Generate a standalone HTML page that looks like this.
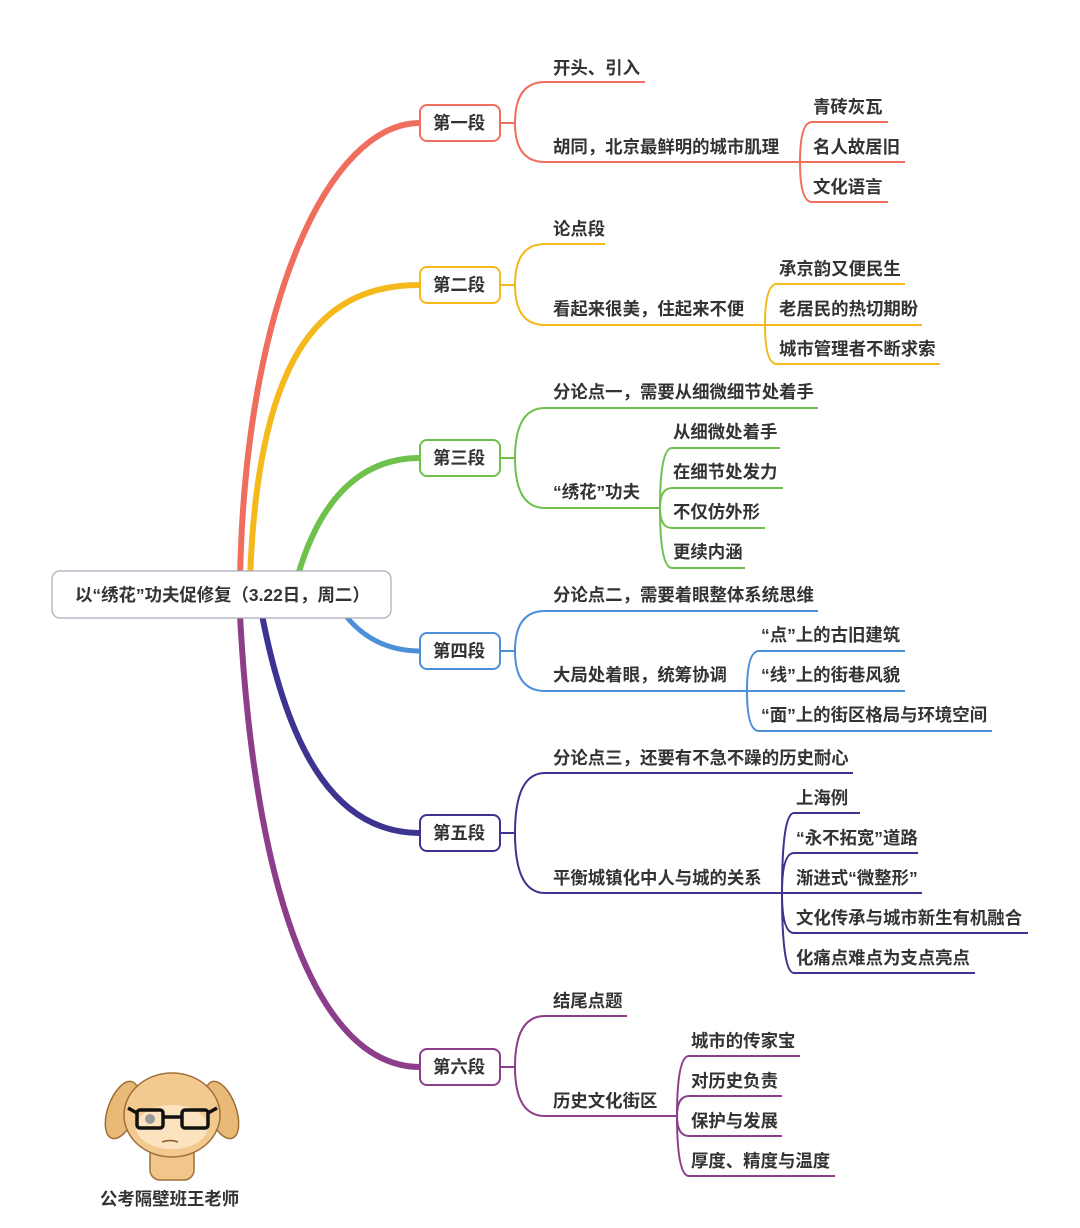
<!DOCTYPE html>
<html><head><meta charset="utf-8"><style>
html,body{margin:0;padding:0;background:#fff;}
svg{display:block}
text{font-family:"Liberation Sans","Noto Sans CJK SC",sans-serif;font-size:17.4px;font-weight:bold;fill:#333;}
.n{fill:#fff;stroke-width:2}
.l{fill:none;stroke-width:2}
</style></head><body>
<svg width="1080" height="1228" viewBox="0 0 1080 1228" xmlns="http://www.w3.org/2000/svg">
<g fill="none" stroke-linecap="round">
<path d="M240,580 C245,300 330,123 420,123" stroke="#ef6e5d" stroke-width="6"/>
<path d="M250,580 C258,340 330,285 420,285" stroke="#f6b91c" stroke-width="6"/>
<path d="M298,575 C320,500 360,458 420,458" stroke="#70c04c" stroke-width="6"/>
<path d="M345,615 C365,640 390,651 420,651" stroke="#4a8fd7" stroke-width="5"/>
<path d="M262,615 C290,760 340,833 420,833" stroke="#3c3490" stroke-width="6"/>
<path d="M240,615 C255,900 320,1067 420,1067" stroke="#8c3e8b" stroke-width="6"/>
</g>
<rect x="52" y="571" width="339" height="47" rx="8" fill="#fff" stroke="#aab" stroke-width="1.2"/>
<text x="75" y="601">以“绣花”功夫促修复（3.22日，周二）</text>

<g stroke="#ef6e5d" class="l">
<path class="l" d="M500,123 H515 M515,123 Q515,82 545,82 H645 M515,123 Q515,162 545,162 H800"/>
<path class="l" d="M800,162 Q800,122 812,122 H888 M800,162 H905 M800,162 Q800,202 812,202 H888"/>
<rect class="n" x="420" y="105" width="80" height="36" rx="7"/>
</g>
<text x="433" y="129">第一段</text>
<text x="553" y="74">开头、引入</text>
<text x="553" y="153">胡同，北京最鲜明的城市肌理</text>
<text x="813" y="113">青砖灰瓦</text>
<text x="813" y="153">名人故居旧</text>
<text x="813" y="193">文化语言</text>

<g stroke="#f6b91c" class="l">
<path class="l" d="M500,285 H515 M515,285 Q515,244 545,244 H605 M515,285 Q515,325 545,325 H765"/>
<path class="l" d="M765,325 Q765,284 777,284 H905 M765,325 H922 M765,325 Q765,364 777,364 H940"/>
<rect class="n" x="420" y="267" width="80" height="36" rx="7"/>
</g>
<text x="433" y="291">第二段</text>
<text x="553" y="235">论点段</text>
<text x="553" y="315">看起来很美，住起来不便</text>
<text x="779" y="275">承京韵又便民生</text>
<text x="779" y="315">老居民的热切期盼</text>
<text x="779" y="355">城市管理者不断求索</text>

<g stroke="#70c04c" class="l">
<path class="l" d="M500,458 H515 M515,458 Q515,408 545,408 H818 M515,458 Q515,508 545,508 H660"/>
<path class="l" d="M660,508 Q660,448 672,448 H780 M660,508 Q660,488 672,488 H783 M660,508 Q660,528 672,528 H765 M660,508 Q660,568 672,568 H745"/>
<rect class="n" x="420" y="440" width="80" height="36" rx="7"/>
</g>
<text x="433" y="464">第三段</text>
<text x="553" y="398">分论点一，需要从细微细节处着手</text>
<text x="553" y="498">“绣花”功夫</text>
<text x="673" y="438">从细微处着手</text>
<text x="673" y="478">在细节处发力</text>
<text x="673" y="518">不仅仿外形</text>
<text x="673" y="558">更续内涵</text>

<g stroke="#4a8fd7" class="l">
<path class="l" d="M500,651 H515 M515,651 Q515,611 545,611 H818 M515,651 Q515,691 545,691 H747"/>
<path class="l" d="M747,691 Q747,651 759,651 H905 M747,691 H905 M747,691 Q747,731 759,731 H992"/>
<rect class="n" x="420" y="633" width="80" height="36" rx="7"/>
</g>
<text x="433" y="657">第四段</text>
<text x="553" y="601">分论点二，需要着眼整体系统思维</text>
<text x="553" y="681">大局处着眼，统筹协调</text>
<text x="761" y="641">“点”上的古旧建筑</text>
<text x="761" y="681">“线”上的街巷风貌</text>
<text x="761" y="721">“面”上的街区格局与环境空间</text>

<g stroke="#3c3490" class="l">
<path class="l" d="M500,833 H515 M515,833 Q515,773 545,773 H853 M515,833 Q515,893 545,893 H782"/>
<path class="l" d="M782,893 Q782,813 794,813 H860 M782,893 Q782,853 794,853 H918 M782,893 H922 M782,893 Q782,933 794,933 H1028 M782,893 Q782,973 794,973 H975"/>
<rect class="n" x="420" y="815" width="80" height="36" rx="7"/>
</g>
<text x="433" y="839">第五段</text>
<text x="553" y="764">分论点三，还要有不急不躁的历史耐心</text>
<text x="553" y="884">平衡城镇化中人与城的关系</text>
<text x="796" y="804">上海例</text>
<text x="796" y="844">“永不拓宽”道路</text>
<text x="796" y="884">渐进式“微整形”</text>
<text x="796" y="924">文化传承与城市新生有机融合</text>
<text x="796" y="964">化痛点难点为支点亮点</text>

<g stroke="#8c3e8b" class="l">
<path class="l" d="M500,1067 H515 M515,1067 Q515,1016 545,1016 H627 M515,1067 Q515,1116 545,1116 H677"/>
<path class="l" d="M677,1116 Q677,1056 689,1056 H800 M677,1116 Q677,1096 689,1096 H782 M677,1116 Q677,1136 689,1136 H782 M677,1116 Q677,1176 689,1176 H835"/>
<rect class="n" x="420" y="1049" width="80" height="36" rx="7"/>
</g>
<text x="433" y="1073">第六段</text>
<text x="553" y="1007">结尾点题</text>
<text x="553" y="1107">历史文化街区</text>
<text x="691" y="1047">城市的传家宝</text>
<text x="691" y="1087">对历史负责</text>
<text x="691" y="1127">保护与发展</text>
<text x="691" y="1167">厚度、精度与温度</text>

<g stroke="#a0703a" stroke-width="1.5">
<ellipse cx="122" cy="1110" rx="14" ry="30" fill="#e9b978" transform="rotate(20 122 1110)"/>
<ellipse cx="222" cy="1110" rx="14" ry="30" fill="#e9b978" transform="rotate(-20 222 1110)"/>
<rect x="150" y="1140" width="44" height="40" rx="10" fill="#f0c68a"/>
<ellipse cx="172" cy="1115" rx="48" ry="42" fill="#f2c98e"/>
</g>
<ellipse cx="172" cy="1127" rx="36" ry="22" fill="#fbe3c0"/>
<g fill="none" stroke="#111" stroke-width="3.5">
<rect x="137" y="1110" width="26" height="18" rx="3"/>
<rect x="182" y="1110" width="26" height="18" rx="3"/>
<path d="M163,1117 H182 M137,1113 L128,1108 M208,1113 L217,1108"/>
</g>
<circle cx="150" cy="1119" r="5" fill="#999"/>
<path d="M162,1142 q8,-3 16,0" stroke="#8a5a2a" stroke-width="1.5" fill="none"/>
<text x="100" y="1205" style="font-size:17.4px">公考隔壁班王老师</text>
</svg>
</body></html>
